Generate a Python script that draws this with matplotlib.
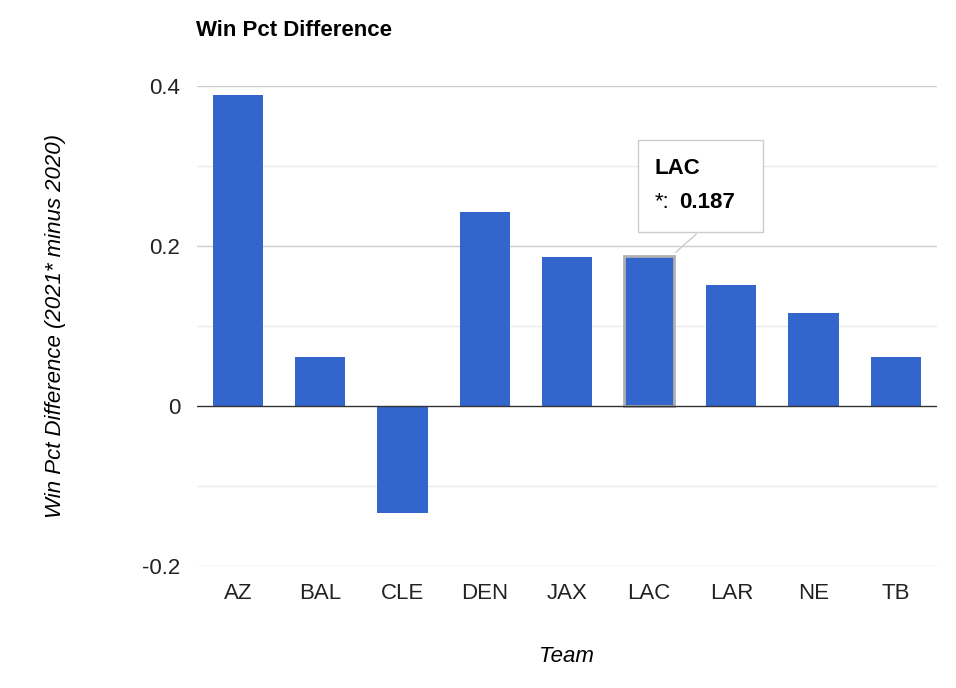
import matplotlib.pyplot as plt

teams = ['AZ', 'BAL', 'CLE', 'DEN', 'JAX', 'LAC', 'LAR', 'NE', 'TB']
diffs = [0.389, 0.062, -0.133, 0.242, 0.186, 0.187, 0.151, 0.116, 0.062]

plt.rcParams['font.family'] = ['Arial', 'Liberation Sans', 'DejaVu Sans']
fig = plt.figure(figsize=(9.56, 6.88), dpi=100)
ax = fig.add_axes([0.206, 0.177, 0.774, 0.698])

x = range(len(teams))
bars = ax.bar(x, diffs, width=0.61, color='#3366cc', zorder=3)
# highlighted bar (hover state)
bars[5].set_edgecolor('#b0b0b0')
bars[5].set_linewidth(2)

ax.set_ylim(-0.2, 0.4)
ax.set_xlim(-0.5, len(teams) - 0.5)
ax.set_yticks([-0.2, 0, 0.2, 0.4])
ax.set_yticklabels(['-0.2', '0', '0.2', '0.4'])
for v in [-0.1, 0.1, 0.3]:
    ax.axhline(v, color='#ebebeb', lw=1, zorder=1)
for v in [-0.2, 0.2, 0.4]:
    ax.axhline(v, color='#cccccc', lw=1, zorder=1)
ax.axhline(0, color='#333333', lw=1, zorder=4)

ax.set_xticks(list(x))
ax.set_xticklabels(teams)
ax.tick_params(length=0, labelsize=16, colors='#222222', pad=12)
for s in ax.spines.values():
    s.set_visible(False)

ax.set_xlabel('Team', fontsize=16, style='italic', labelpad=30)
ax.set_ylabel('Win Pct Difference (2021* minus 2020)', fontsize=16, style='italic', labelpad=55)
fig.text(0.205, 0.955, 'Win Pct Difference', fontsize=16, fontweight='bold', va='center')

# tooltip
ax.annotate('', xy=(5.3, 0.19), xytext=(5.6, 0.2175),
            arrowprops=dict(arrowstyle='-', color='#cccccc'), zorder=5)
ax.add_patch(plt.Rectangle((4.86, 0.2175), 1.53, 0.115, facecolor='white',
                           edgecolor='#cccccc', zorder=6))
ax.text(5.07, 0.2975, 'LAC', fontsize=16, fontweight='bold', va='center', zorder=7)
ax.text(5.07, 0.255, '*:', fontsize=16, va='center', zorder=7)
ax.text(5.37, 0.255, '0.187', fontsize=16, fontweight='bold', va='center', zorder=7)

fig.savefig('out.png', dpi=100)
